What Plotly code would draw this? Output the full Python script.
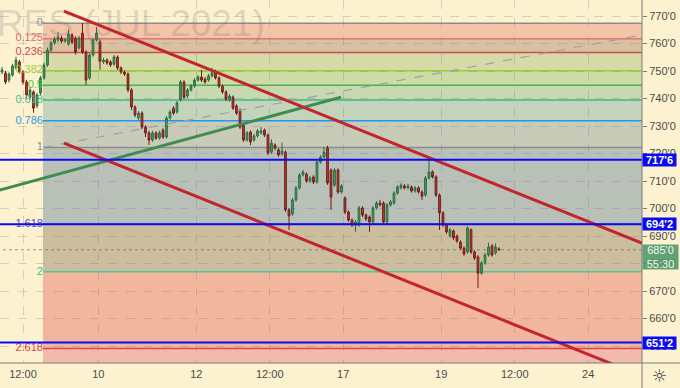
import plotly.graph_objects as go

# ---------------- data ----------------
opens = [749.6, 749.3, 746.7, 748.5, 751.1, 753.3, 749.6, 746.0, 740.5, 742.4,
         737.3, 742.0, 747.5, 752.2, 757.6, 760.2, 761.3, 762.0, 760.9, 759.8,
         763.1, 762.0, 758.4, 763.8, 756.9, 747.5, 755.8, 761.3, 760.5, 753.3,
         754.0, 753.3, 752.5, 755.1, 751.1, 749.6, 748.9, 743.1, 736.9, 732.9,
         734.7, 729.6, 727.5, 724.9, 727.5, 725.6, 728.5, 726.0, 732.9, 736.5,
         735.1, 739.5, 746.0, 740.9, 743.1, 744.5, 746.7, 747.8, 747.1, 746.7,
         748.2, 749.6, 747.5, 744.5, 742.4, 739.5, 740.5, 737.3, 735.8, 730.4,
         724.9, 727.8, 724.9, 726.4, 727.5, 728.5, 726.7, 720.5, 723.1, 721.3,
         719.8, 720.5, 699.5, 698.0, 703.1, 707.5, 712.2, 712.5, 710.0, 711.5,
         709.6, 716.9, 718.7, 722.0, 714.0, 708.5, 714.0, 706.0, 703.8, 698.7,
         695.8, 694.0, 694.0, 700.2, 697.6, 696.9, 695.1, 700.2, 702.0, 702.0,
         695.1, 701.3, 702.0, 705.6, 707.5, 708.2, 707.5, 707.8, 706.4, 707.5,
         706.0, 704.9, 711.1, 713.3, 711.5, 704.9, 698.4, 694.0, 690.0, 691.8,
         690.0, 687.8, 685.6, 684.2, 692.2, 684.2, 682.4, 676.5, 680.2, 683.1,
         686.4, 683.8, 685.3]
closes = [750.4, 746.0, 748.9, 751.8, 754.0, 749.6, 746.0, 741.3, 743.1, 736.5,
          741.3, 747.5, 752.2, 757.6, 760.2, 761.6, 762.4, 760.9, 761.3, 763.5,
          760.5, 756.9, 762.0, 756.9, 746.7, 755.8, 761.3, 763.8, 753.6, 754.0,
          752.9, 752.2, 755.1, 751.1, 749.6, 748.9, 743.1, 736.9, 734.0, 734.7,
          729.6, 727.5, 724.9, 727.5, 725.6, 727.5, 726.0, 732.9, 735.1, 734.7,
          738.4, 746.0, 740.5, 743.1, 744.5, 746.7, 747.8, 746.7, 746.0, 748.2,
          749.3, 747.5, 744.5, 742.4, 739.8, 740.9, 736.5, 734.7, 729.6, 724.9,
          727.5, 724.2, 726.4, 728.2, 728.2, 726.7, 720.2, 723.8, 722.0, 719.5,
          720.9, 699.5, 697.3, 703.1, 707.5, 712.2, 713.3, 710.0, 711.1, 709.6,
          716.9, 718.7, 720.5, 709.3, 704.2, 714.0, 706.0, 708.2, 698.7, 695.8,
          694.0, 695.1, 700.2, 697.6, 696.2, 695.1, 700.2, 702.0, 701.3, 695.1,
          701.3, 702.4, 705.6, 707.8, 708.5, 707.5, 708.2, 706.4, 707.5, 706.0,
          704.5, 711.1, 713.3, 711.5, 704.9, 698.4, 694.0, 691.5, 692.2, 689.3,
          688.2, 685.6, 683.5, 692.9, 684.2, 682.0, 676.5, 680.2, 683.1, 686.0,
          683.1, 686.0, 685.0]
highs = [751.5, 750.0, 749.5, 752.6, 755.2, 754.0, 750.3, 746.8, 744.0, 743.0,
         742.0, 748.2, 753.0, 758.5, 761.0, 762.5, 764.2, 762.8, 762.0, 765.0,
         763.8, 762.6, 762.8, 767.5, 757.5, 756.5, 762.0, 766.0, 761.5, 754.8,
         754.6, 753.9, 755.8, 755.7, 751.7, 750.2, 749.5, 743.8, 737.5, 735.4,
         735.3, 730.3, 728.2, 728.2, 728.1, 728.3, 729.2, 733.6, 735.8, 737.2,
         739.1, 746.7, 746.6, 743.8, 745.2, 747.4, 748.5, 750.4, 747.8, 748.9,
         751.1, 750.5, 748.1, 745.1, 743.0, 741.6, 741.1, 737.9, 736.4, 731.0,
         728.2, 728.4, 727.1, 728.9, 729.6, 729.1, 727.3, 725.2, 723.7, 721.9,
         724.0, 721.1, 700.1, 703.8, 708.2, 712.9, 714.0, 713.1, 711.8, 712.1,
         717.6, 719.4, 722.4, 722.8, 714.6, 714.7, 714.6, 708.9, 704.4, 699.3,
         696.4, 695.8, 700.9, 700.8, 698.2, 697.5, 700.9, 702.7, 703.1, 702.6,
         702.0, 703.1, 706.3, 708.5, 709.2, 708.9, 708.9, 708.4, 708.2, 708.1,
         706.6, 711.8, 718.4, 713.9, 712.1, 705.5, 699.0, 694.6, 692.9, 692.4,
         690.6, 688.4, 686.2, 693.6, 692.8, 684.8, 683.0, 680.9, 683.8, 687.6,
         687.0, 687.3, 685.9]
lows = [748.8, 745.2, 745.8, 747.9, 750.5, 749.0, 745.0, 740.2, 739.6, 734.8,
        736.5, 741.2, 746.8, 751.5, 756.9, 759.6, 760.6, 760.2, 760.3, 759.2,
        759.8, 756.0, 757.8, 756.2, 744.9, 746.8, 755.2, 760.7, 750.5, 752.6,
        752.2, 751.5, 751.9, 750.4, 748.9, 748.2, 742.3, 735.8, 733.2, 732.2,
        728.9, 726.0, 723.1, 724.2, 725.0, 725.0, 725.3, 725.4, 732.3, 734.0,
        734.5, 738.9, 739.8, 740.2, 742.5, 743.9, 746.1, 746.0, 745.4, 746.1,
        747.6, 746.9, 743.8, 741.7, 739.1, 738.9, 735.8, 734.0, 728.9, 724.2,
        724.3, 723.1, 724.3, 725.8, 726.9, 726.0, 719.4, 719.9, 721.3, 718.8,
        719.2, 698.8, 692.2, 697.4, 702.5, 706.9, 711.6, 709.3, 709.4, 708.9,
        709.0, 716.3, 718.1, 708.6, 699.5, 707.9, 705.3, 705.4, 698.0, 695.1,
        693.3, 691.5, 693.4, 696.9, 695.5, 691.5, 694.5, 699.6, 700.7, 694.0,
        694.5, 700.7, 701.4, 705.0, 706.9, 706.9, 706.9, 705.8, 705.8, 705.4,
        703.1, 704.3, 710.5, 710.9, 704.2, 692.2, 693.3, 690.8, 689.4, 688.6,
        687.5, 684.9, 682.8, 683.6, 683.5, 681.3, 671.1, 675.9, 679.6, 682.5,
        682.5, 683.2, 684.6]
bar_index = list(range(len(closes)))

x_tick_pos = [6, 27.5, 55.5, 76.5, 97.5, 125.5, 146.5, 167.5]
x_tick_text = ["12:00", "10", "12", "12:00", "17", "19", "12:00", "24"]

y_tick_vals = [650, 660, 670, 680, 690, 700, 710, 720, 730, 740, 750, 760, 770]
y_tick_text = ["650'0", "660'0", "670'0", "680'0", "690'0", "700'0", "710'0",
               "720'0", "730'0", "740'0", "750'0", "760'0", "770'0"]

# Fibonacci retracement (anchors)
fib_price_0 = 767.4
fib_price_1 = 722.2
fib_start_x = 11.7
fib_levels = [0, 0.125, 0.236, 0.382, 0.5, 0.618, 0.786, 1, 1.618, 2, 2.618, 3.618]
fib_labels = ["0", "0.125", "0.236", "0.382", "0.5", "0.618", "0.786", "1", "1.618", "2", "2.618", ""]
fib_line_colors = ["#8c8c8c", "#e57373", "#c8504a", "#9acd32", "#4caf50", "#3cb88a",
                   "#2196f3", "#8c8c8c", "#3f51b5", "#4cc9a0", "#e04848", "#e04848"]
fib_label_colors = ["#8c8c8c", "#e06a6a", "#d04848", "#9acd32", "#45c845", "#40c090",
                    "#3399e0", "#8c8c8c", "#5050c8", "#30c090", "#e04040", "#e04040"]
fib_band_colors = ["#f4c4a6", "#d9c0a1", "#d6d9a8", "#cfdba7", "#c8d8b0", "#c3d3bc",
                   "#c7cbb7", "#b9c0b8", "#cbbd9e", "#f2b69e", "#f2b9ae"]

# Horizontal levels (blue)
blue_levels = [717.75, 694.25, 651.25]
blue_labels = ["717'6", "694'2", "651'2"]

last_price = 685.0
last_price_text = "685'0"
countdown_text = "55:30"

# Trend lines (anchor points: bar index, price)
red_upper_x = [17.7, 186.0]
red_upper_y = [771.8, 685.8]
red_lower_x = [17.7, 176.0]
red_lower_y = [723.8, 642.6]
green_x = [-3.0, 96.9]
green_y = [705.9, 740.5]
dashed_x = [11.7, 186.0]
dashed_y = [722.2, 763.9]

watermark = "WHEAT FUTURES (JUL 2021)"
watermark_x = 75.1
watermark_y = 766.0

# ---------------- figure ----------------
BG = "#fdf2d0"
fig = go.Figure()

# watermark (behind everything, clipped to plot area)
fig.add_trace(go.Scatter(x=[watermark_x], y=[watermark_y], mode="text", text=[watermark],
                         textposition="middle left",
                         textfont=dict(size=37, color="rgba(110,110,120,0.22)",
                                       family="Liberation Sans"),
                         hoverinfo="skip", showlegend=False, cliponaxis=True))

def fib_price(lv):
    return fib_price_0 - lv * (fib_price_0 - fib_price_1)

shapes = []
for k in range(len(fib_levels) - 1):
    shapes.append(dict(type="rect", xref="x", yref="y", x0=fib_start_x, x1=400,
                       y0=fib_price(fib_levels[k]), y1=fib_price(fib_levels[k + 1]),
                       fillcolor=fib_band_colors[k], line=dict(width=0), layer="below"))
for k, lv in enumerate(fib_levels[:-1]):
    shapes.append(dict(type="line", xref="x", yref="y", x0=fib_start_x, x1=400,
                       y0=fib_price(lv), y1=fib_price(lv),
                       line=dict(color=fib_line_colors[k], width=1.5), layer="below"))

# fib labels (drawn under the candles)
fig.add_trace(go.Scatter(x=[fib_start_x] * (len(fib_levels) - 1),
                         y=[fib_price(lv) for lv in fib_levels[:-1]],
                         mode="text", text=fib_labels[:-1], textposition="middle left",
                         textfont=dict(size=11, color=fib_label_colors[:-1],
                                       family="Liberation Sans"),
                         hoverinfo="skip", showlegend=False, cliponaxis=False))

fig.add_trace(go.Candlestick(
    x=bar_index, open=opens, high=highs, low=lows, close=closes,
    increasing=dict(line=dict(color="#2c6b40", width=1), fillcolor="#45a062"),
    decreasing=dict(line=dict(color="#6e1c18", width=1), fillcolor="#c53a30"),
    whiskerwidth=0, showlegend=False, hoverinfo="skip"))

# current price dotted line
fig.add_trace(go.Scatter(x=[-10, 400], y=[last_price, last_price], mode="lines",
                         line=dict(color="rgba(110,110,110,0.7)", width=1, dash="dot"),
                         hoverinfo="skip", showlegend=False))

# trend lines
fig.add_trace(go.Scatter(x=dashed_x, y=dashed_y, mode="lines",
                         line=dict(color="#a0a0a0", width=1.2, dash="dash"),
                         hoverinfo="skip", showlegend=False))
fig.add_trace(go.Scatter(x=green_x, y=green_y, mode="lines",
                         line=dict(color="#3f8c4c", width=3),
                         hoverinfo="skip", showlegend=False))
fig.add_trace(go.Scatter(x=red_upper_x, y=red_upper_y, mode="lines",
                         line=dict(color="#c2262c", width=3),
                         hoverinfo="skip", showlegend=False))
fig.add_trace(go.Scatter(x=red_lower_x, y=red_lower_y, mode="lines",
                         line=dict(color="#c2262c", width=3),
                         hoverinfo="skip", showlegend=False))

# blue horizontal levels
for lvl in blue_levels:
    fig.add_trace(go.Scatter(x=[-10, 400], y=[lvl, lvl], mode="lines",
                             line=dict(color="#0a0af5", width=2),
                             hoverinfo="skip", showlegend=False))

# axis frame lines
shapes.append(dict(type="line", xref="paper", yref="paper", x0=1, x1=1, y0=-0.07, y1=1,
                   line=dict(color="#7a7a7a", width=1)))
shapes.append(dict(type="line", xref="paper", yref="paper", x0=0, x1=1.06, y0=0, y1=0,
                   line=dict(color="#7a7a7a", width=1)))

annotations = []
for lvl, txt in zip(blue_levels, blue_labels):
    annotations.append(dict(xref="paper", x=1, xanchor="left", yref="y", y=lvl,
                            yanchor="middle", text="<b>" + txt + "</b>", showarrow=False,
                            bgcolor="#0a0af5", font=dict(color="white", size=11,
                                                         family="Liberation Sans"),
                            width=33, height=12, borderpad=0, align="center"))
annotations.append(dict(xref="paper", x=1, xanchor="left", yref="y", y=last_price,
                        yanchor="top", yshift=6,
                        text=last_price_text + "<br>" + countdown_text, showarrow=False,
                        bgcolor="rgba(80,152,104,0.9)",
                        font=dict(color="#f4f4f4", size=11, family="Liberation Sans"),
                        width=35, height=24, borderpad=0, align="center"))
annotations.append(dict(xref="paper", yref="paper", x=1.028, y=-0.035, xanchor="center",
                        yanchor="middle", text="☼", showarrow=False,
                        font=dict(size=17, color="#333333", family="DejaVu Sans")))

fig.update_layout(
    width=680, height=388, autosize=False,
    margin=dict(l=0, r=38, t=0, b=25),
    paper_bgcolor=BG, plot_bgcolor=BG,
    shapes=shapes, annotations=annotations,
    showlegend=False, hovermode=False,
    xaxis=dict(range=[-0.571, 182.86], tickmode="array", tickvals=x_tick_pos,
               ticktext=x_tick_text, showgrid=True, gridcolor="rgba(120,120,120,0.28)",
               griddash="dash", gridwidth=1, zeroline=False, showline=False, ticks="",
               ticklabelstandoff=3,
               tickfont=dict(size=11, color="#4a4a4a", family="Liberation Sans"),
               rangeslider=dict(visible=False), fixedrange=True),
    yaxis=dict(range=[643.82, 775.82], side="right", tickmode="array",
               tickvals=y_tick_vals, ticktext=y_tick_text, showgrid=True,
               gridcolor="rgba(120,120,120,0.28)", griddash="dash", gridwidth=1,
               zeroline=False, showline=False, ticks="outside", ticklen=4,
               tickcolor="#7a7a7a",
               tickfont=dict(size=11, color="#4a4a4a", family="Liberation Sans"),
               fixedrange=True),
)

fig.write_html("out.html", config={"displayModeBar": False, "staticPlot": True},
               post_script="document.body.style.margin='0';document.body.style.overflow='hidden';")
